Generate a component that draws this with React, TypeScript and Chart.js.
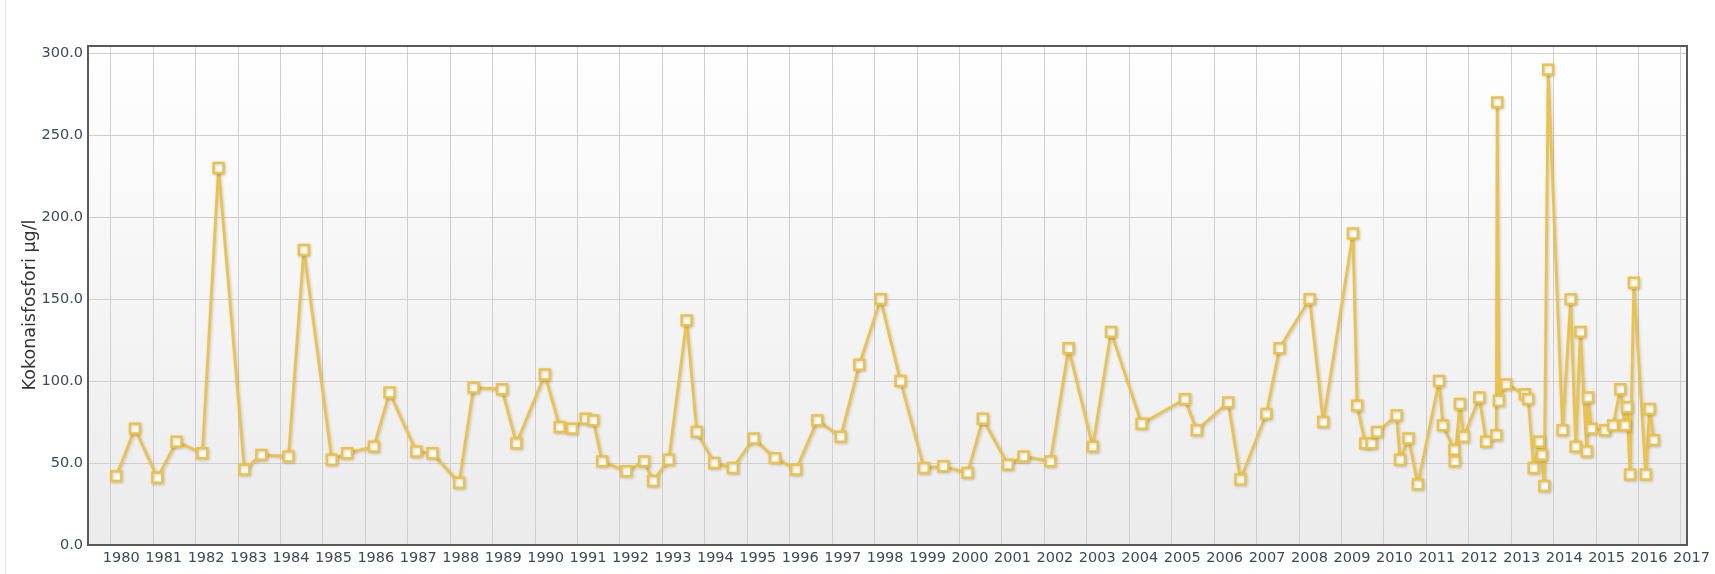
import React, { useEffect, useRef } from 'react';
import { Chart, registerables } from 'chart.js';

Chart.register(...registerables);

// Sample dates as decimal years
const sampleYears = [
  1980.13, 1980.57, 1981.10, 1981.55, 1982.16, 1982.54, 1983.15, 1983.55, 1984.19, 1984.55,
  1985.21, 1985.57, 1986.20, 1986.57, 1987.20, 1987.58, 1988.21, 1988.55, 1989.22, 1989.56,
  1990.23, 1990.58, 1990.87, 1991.19, 1991.37, 1991.58, 1992.15, 1992.57, 1992.78, 1993.15,
  1993.57, 1993.81, 1994.22, 1994.66, 1995.15, 1995.65, 1996.15, 1996.65, 1997.20, 1997.64,
  1998.14, 1998.61, 1999.16, 1999.62, 2000.19, 2000.55, 2001.14, 2001.51, 2002.14, 2002.57,
  2003.14, 2003.57, 2004.29, 2005.31, 2005.59, 2006.33, 2006.62, 2007.23, 2007.54, 2008.25,
  2008.57, 2009.27, 2009.37, 2009.56, 2009.71, 2009.84, 2010.30, 2010.38, 2010.58, 2010.80,
  2011.30, 2011.39, 2011.66, 2011.67, 2011.79, 2011.88, 2012.25, 2012.41, 2012.65, 2012.67,
  2012.71, 2012.88, 2013.32, 2013.40, 2013.53, 2013.66, 2013.72, 2013.78, 2013.87, 2014.21,
  2014.40, 2014.52, 2014.63, 2014.78, 2014.81, 2014.89, 2015.21, 2015.40, 2015.57, 2015.68,
  2015.73, 2015.80, 2015.89, 2016.17, 2016.26, 2016.36,
];

// Kokonaisfosfori µg/l
const phosphorus = [
  42, 71, 41, 63, 56, 230, 46, 55, 54, 180,
  52, 56, 60, 93, 57, 56, 38, 96, 95, 62,
  104, 72, 71, 77, 76, 51, 45, 51, 39, 52,
  137, 69, 50, 47, 65, 53, 46, 76, 66, 110,
  150, 100, 47, 48, 44, 77, 49, 54, 51, 120,
  60, 130, 74, 89, 70, 87, 40, 80, 120, 150,
  75, 190, 85, 62, 62, 69, 79, 52, 65, 37,
  100, 73, 58, 51, 86, 66, 90, 63, 67, 270,
  88, 98, 92, 89, 47, 63, 55, 36, 290, 70,
  150, 60, 130, 57, 90, 71, 70, 73, 95, 73,
  84, 43, 160, 43, 83, 64,
];

const yTickValues = [0, 50, 100, 150, 200, 250, 300];
const xTickYears = [
  1980, 1981, 1982, 1983, 1984, 1985, 1986, 1987, 1988, 1989,
  1990, 1991, 1992, 1993, 1994, 1995, 1996, 1997, 1998, 1999,
  2000, 2001, 2002, 2003, 2004, 2005, 2006, 2007, 2008, 2009,
  2010, 2011, 2012, 2013, 2014, 2015, 2016, 2017,
];
const yAxisTitle = 'Kokonaisfosfori µg/l';

const FONT = '"DejaVu Sans", Verdana, sans-serif';

const decorPlugin = {
  id: 'decor',
  beforeDraw(chart: any) {
    const { ctx, chartArea } = chart;
    const { left, top, right, bottom } = chartArea;
    ctx.save();
    const g = ctx.createLinearGradient(0, top, 0, bottom);
    g.addColorStop(0, '#ffffff');
    g.addColorStop(1, '#ebebeb');
    ctx.fillStyle = g;
    ctx.fillRect(left, top, right - left, bottom - top);
    // outer container border
    ctx.strokeStyle = '#e4e4e4';
    ctx.lineWidth = 1;
    ctx.beginPath();
    ctx.moveTo(5.5, 0);
    ctx.lineTo(5.5, chart.height);
    ctx.stroke();
    ctx.restore();
  },
  beforeDatasetsDraw(chart: any) {
    const { ctx } = chart;
    ctx.save();
    ctx.shadowColor = 'rgba(0,0,0,0.18)';
    ctx.shadowBlur = 3;
    ctx.shadowOffsetX = 1;
    ctx.shadowOffsetY = 1;
  },
  afterDatasetsDraw(chart: any) {
    chart.ctx.restore();
  },
  afterDraw(chart: any) {
    const { ctx, chartArea } = chart;
    const { left, top, right, bottom } = chartArea;
    ctx.save();
    ctx.strokeStyle = '#5a5a5a';
    ctx.lineWidth = 2;
    ctx.strokeRect(left, top, right - left, bottom - top);
    ctx.translate(30, 305);
    ctx.rotate(-Math.PI / 2);
    ctx.fillStyle = '#333333';
    ctx.font = `17.5px ${FONT}`;
    ctx.textAlign = 'center';
    ctx.textBaseline = 'middle';
    ctx.fillText(yAxisTitle, 0, 0);
    ctx.restore();
  },
};

export default function App() {
  const canvasRef = useRef<HTMLCanvasElement | null>(null);

  useEffect(() => {
    if (!canvasRef.current) return;
    const points = sampleYears.map((x, i) => ({ x, y: phosphorus[i] }));
    const chart = new Chart(canvasRef.current, {
      type: 'line',
      data: {
        datasets: [
          {
            label: yAxisTitle,
            data: points,
            borderColor: '#ebc24a',
            borderWidth: 2.8,
            borderJoinStyle: 'round',
            pointStyle: 'rect',
            pointRadius: 7,
            pointBorderWidth: 2.5,
            pointBackgroundColor: '#ffffff',
            pointBorderColor: '#ebc24a',
            tension: 0,
            fill: false,
          },
        ],
      },
      options: {
        animation: false,
        responsive: true,
        maintainAspectRatio: false,
        layout: { padding: { left: 0, top: 46, right: 28, bottom: 0 } },
        plugins: {
          legend: { display: false },
          tooltip: { enabled: false },
          title: { display: false },
        },
        scales: {
          x: {
            type: 'linear',
            min: 1979.465,
            max: 2017.142,
            grid: { color: '#cfcfcf', lineWidth: 1, drawTicks: false },
            border: { display: false },
            afterBuildTicks: (scale: any) => {
              scale.ticks = xTickYears.map((v) => ({ value: v }));
            },
            afterFit: (scale: any) => {
              scale.height = 29;
            },
            ticks: {
              autoSkip: false,
              maxRotation: 0,
              minRotation: 0,
              padding: 5,
              labelOffset: 10.5,
              color: '#3e4956',
              font: { family: FONT, size: 14.5 },
              callback: (v: any) => String(Math.round(Number(v))),
            },
          },
          y: {
            type: 'linear',
            min: 0,
            max: 304.4,
            grid: { color: '#cfcfcf', lineWidth: 1, drawTicks: false },
            border: { display: false },
            afterBuildTicks: (scale: any) => {
              scale.ticks = yTickValues.map((v) => ({ value: v }));
            },
            afterFit: (scale: any) => {
              scale.width = 88;
            },
            ticks: {
              padding: 5,
              color: '#3e4956',
              font: { family: FONT, size: 14.5 },
              callback: (v: any) => Number(v).toFixed(1),
            },
          },
        },
      },
      plugins: [decorPlugin],
    });
    return () => chart.destroy();
  }, []);

  return (
    <div
      style={{
        position: 'fixed',
        left: 0,
        top: 0,
        width: '1715px',
        height: '574px',
        background: '#ffffff',
      }}
    >
      <canvas ref={canvasRef} />
    </div>
  );
}
